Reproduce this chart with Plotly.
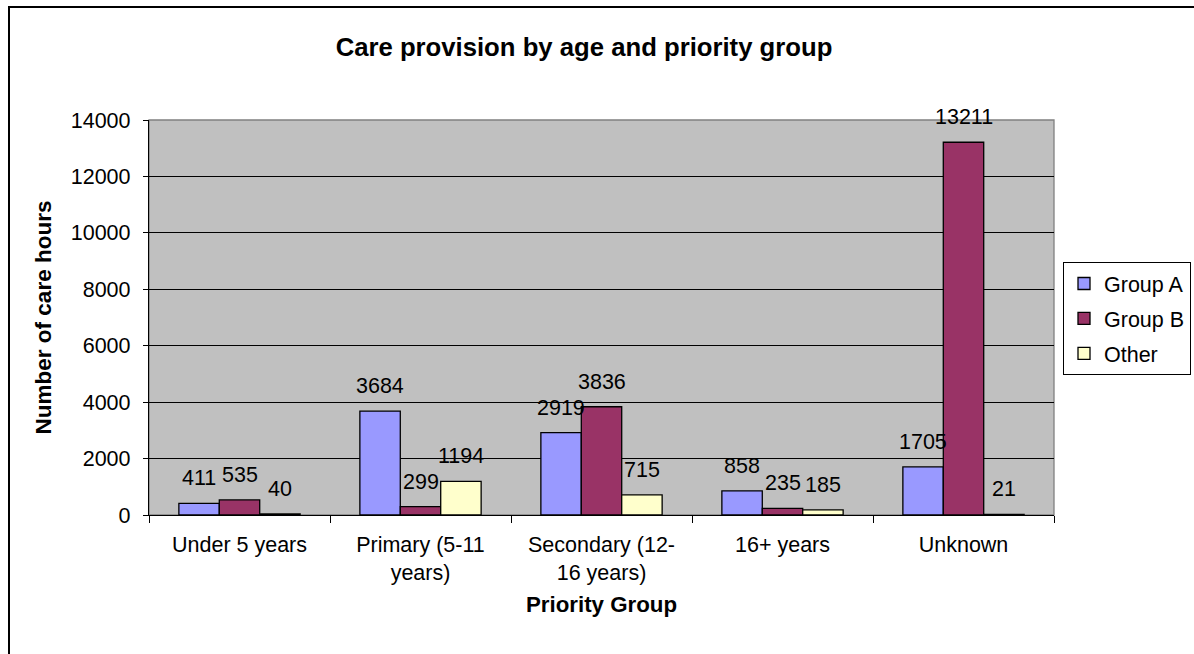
import plotly.graph_objects as go

# Care hours by age band and priority group
categories = ["Under 5 years", "Primary (5-11<br>years)", "Secondary (12-<br>16 years)",
              "16+ years", "Unknown"]
group_a = [411, 3684, 2919, 858, 1705]
group_b = [535, 299, 3836, 235, 13211]
other = [40, 1194, 715, 185, 21]

series_names = ["Group A", "Group B", "Other"]
series_values = [group_a, group_b, other]
series_colors = ["#9999FF", "#993366", "#FFFFCC"]

y_ticks = [0, 2000, 4000, 6000, 8000, 10000, 12000, 14000]
y_tick_text = [str(t) for t in y_ticks]

W, H = 1194, 654
ML, MR, MT, MB = 149, 140, 120, 139
BARGAP = 0.33
FONT = "Liberation Sans, Arial, sans-serif"

fig = go.Figure()
for name, vals, col in zip(series_names, series_values, series_colors):
    fig.add_trace(go.Bar(
        name=name, x=categories, y=vals,
        marker=dict(color=col, line=dict(color="black", width=1.3)),
        legendgroup=name, hoverinfo="x+y+name",
    ))

# value labels above each bar, positioned on the category scale
n = len(series_values)
bw = (1 - BARGAP) / n
annotations = []
for j, vals in enumerate(series_values):
    for i, v in enumerate(vals):
        annotations.append(dict(
            x=i + (j - (n - 1) / 2) * bw, y=v, xref="x", yref="y",
            text=str(v), showarrow=False, yanchor="bottom", yshift=11,
            font=dict(family=FONT, size=21.5, color="black"),
        ))

pw = W - ML - MR
ph = H - MT - MB
# chart frame (left and top edges fall inside the page)
frame = dict(type="rect", xref="paper", yref="paper",
             x0=(9 - ML) / pw, x1=(W + 20 - ML) / pw,
             y0=-(MB + 20) / ph, y1=(H - 7 - MB) / ph,
             line=dict(color="black", width=2), fillcolor="rgba(0,0,0,0)", layer="below")
# plot area border (grey top and right edges)
plot_border = dict(type="rect", xref="paper", yref="paper", x0=0, x1=1, y0=0, y1=1,
                   line=dict(color="#808080", width=1.3), fillcolor="rgba(0,0,0,0)", layer="below")

fig.update_layout(
    width=W, height=H,
    margin=dict(l=ML, r=MR, t=MT, b=MB, autoexpand=False),
    paper_bgcolor="white", plot_bgcolor="#C0C0C0",
    barmode="group", bargap=BARGAP, bargroupgap=0,
    font=dict(family=FONT, size=21.5, color="black"),
    title=dict(text="<b>Care provision by age and priority group</b>",
               x=584 / W, xref="container", xanchor="center",
               y=1 - 47 / H, yref="container", yanchor="middle",
               font=dict(family=FONT, size=25.7, color="black")),
    xaxis=dict(
        type="category", tickson="boundaries", ticks="outside", ticklen=7,
        tickcolor="black", tickwidth=1, showline=True, linecolor="black", linewidth=1.3,
        showgrid=False, tickfont=dict(size=21.5), ticklabelstandoff=10,
        title=dict(text="<b>Priority Group</b>", font=dict(size=22.3), standoff=12),
    ),
    yaxis=dict(
        range=[0, 14000], tickvals=y_ticks, ticktext=y_tick_text, ticks="outside", ticklen=5,
        tickcolor="black", tickwidth=1, showline=True, linecolor="black", linewidth=1.3,
        showgrid=True, gridcolor="black", gridwidth=1, zeroline=False,
        tickfont=dict(size=21.5), ticklabelstandoff=8,
        title=dict(text="<b>Number of care hours</b>", font=dict(size=22.5), standoff=12),
    ),
    legend=dict(
        x=(1063 - ML) / pw, y=(MT + ph - 262) / ph, xanchor="left", yanchor="top",
        bordercolor="black", borderwidth=1, bgcolor="white",
        traceorder="grouped", tracegroupgap=4,
        font=dict(family=FONT, size=21.5, color="black"),
    ),
    annotations=annotations,
    shapes=[frame, plot_border],
    showlegend=True,
)

fig.write_html("out.html")
